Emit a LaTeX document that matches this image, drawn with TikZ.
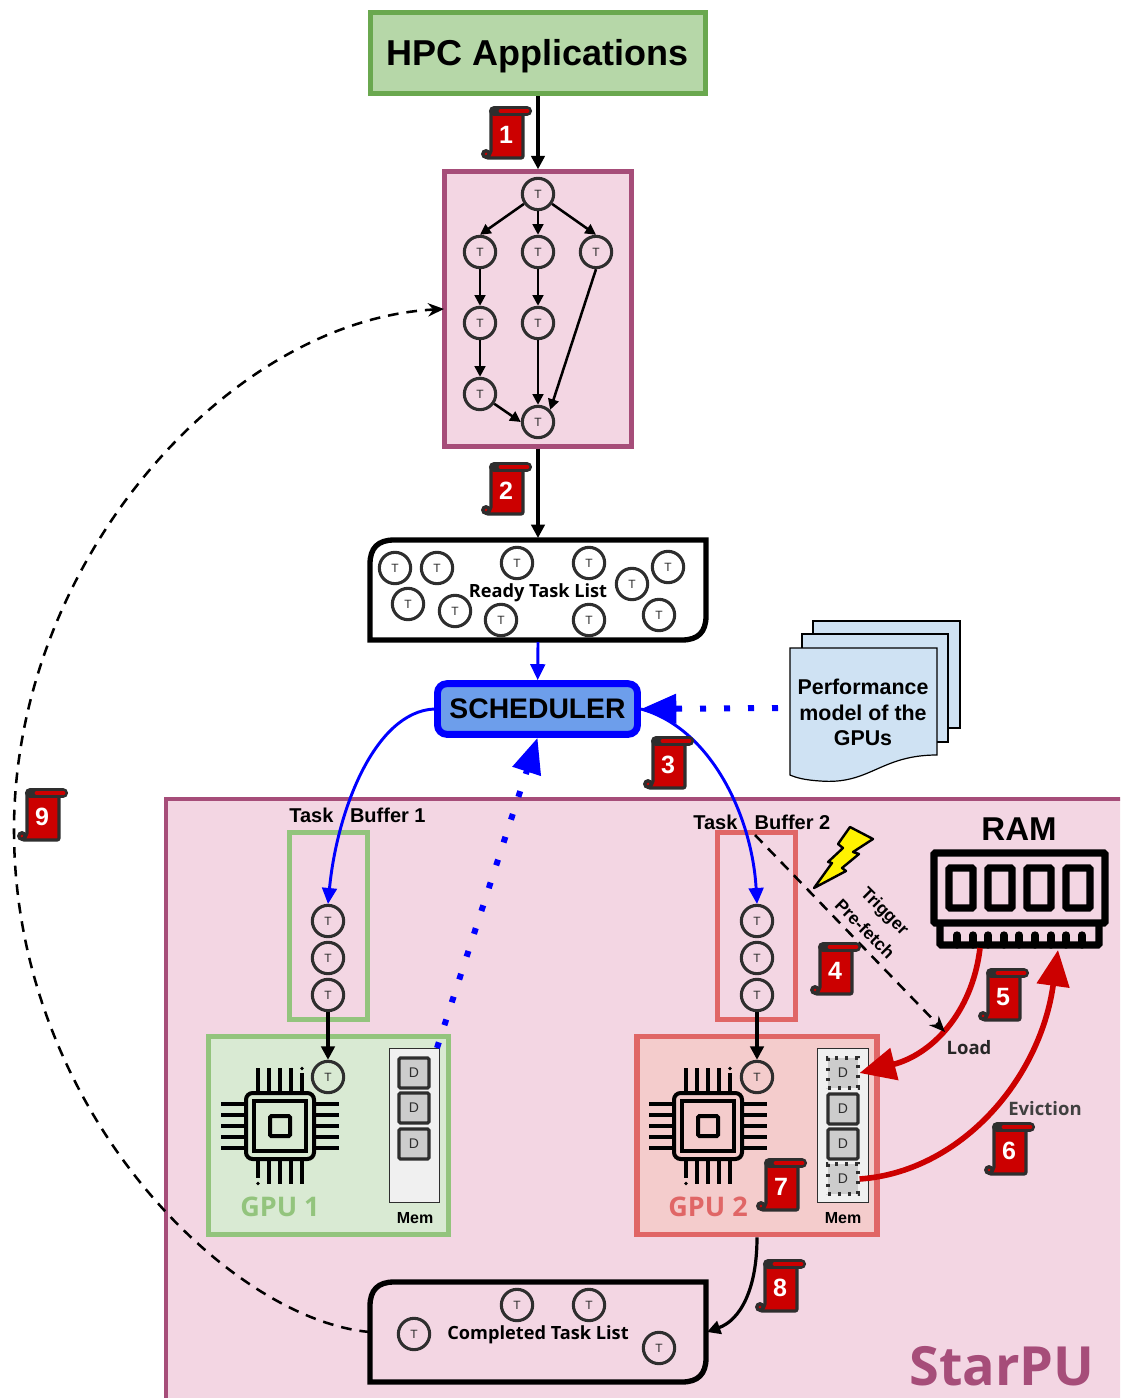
\documentclass[tikz,border=0pt]{standalone}
\usepackage{fontspec}
\setmainfont{Liberation Sans}
\newfontfamily\osans{Open Sans}
\usetikzlibrary{arrows.meta,calc}
\definecolor{plumS}{HTML}{A64D79}
\definecolor{plumF}{HTML}{F3D6E3}
\definecolor{greenA}{HTML}{6AA84F}
\definecolor{greenB}{HTML}{B6D7A8}
\definecolor{greenC}{HTML}{93C47D}
\definecolor{greenD}{HTML}{D9EAD3}
\definecolor{redA}{HTML}{E06666}
\definecolor{redB}{HTML}{F4CCCC}
\definecolor{redC}{HTML}{CC0000}
\definecolor{blueF}{HTML}{6D9EEB}
\definecolor{docF}{HTML}{CFE2F3}
\definecolor{inkG}{HTML}{2E2E2E}
\newcommand{\fpx}[1]{\fontsize{\the\dimexpr #1pt*3/4\relax}{\the\dimexpr #1pt*3/4\relax}\selectfont}
\tikzset{
  tnode/.style={circle,draw=inkG,line width=2.3pt,fill=plumF,minimum size=23.5pt,inner sep=0pt,font=\fontsize{9}{9}\selectfont,text=inkG},
  dnode/.style={rectangle,rounded corners=1pt,draw=inkG,line width=2.4pt,fill=black!20,minimum size=22.5pt,inner sep=0pt,font=\fontsize{10.5}{11}\selectfont,text=inkG},
  dsoft/.style={rectangle,draw=inkG,line width=2.3pt,dash pattern=on 2.3pt off 5.2pt,fill=black!20,minimum size=22.5pt,inner sep=0pt,font=\fontsize{10.5}{11}\selectfont,text=inkG},
  blk/.style={-{Triangle[length=10pt,width=10pt]},line width=2.4pt,black},
  blksmall/.style={-{Triangle[length=8pt,width=8pt]},line width=1.9pt,black},
  blu/.style={-{Triangle[length=12pt,width=11pt]},line width=2.2pt,blue},
  blubig/.style={-{Triangle[length=26.5pt,width=21.4pt]},blue,line width=4.5pt,dash pattern=on 4.5pt off 13.5pt},
  redarrow/.style={-{Triangle[length=27pt,width=24pt]},line width=4.2pt,redC},
  dashk/.style={-{Stealth[length=12pt,width=10pt]},line width=1.9pt,black,dash pattern=on 8pt off 6pt},
  lab/.style={font=\bfseries\fpx{20},inner sep=0pt},
}
\newcommand{\scrollmark}[3]{%
\begin{scope}[shift={(#1,#2)}]
  \fill[inkG] (-4,48) circle[radius=5];
  \fill[redC] (-4,48) circle[radius=1.5];
  \draw[line width=2.4pt,inkG,fill=redC,rounded corners=1.5pt] (1,4) -- (33,4) -- (33,52) -- (-4,52) -- (1,47) -- cycle;
  \draw[line width=7.6pt,inkG,line cap=round] (4,5) -- (37,5);
  \draw[line width=3.6pt,redC,line cap=round] (11,5) -- (37,5);
  \node[text=white,font=\bfseries\fpx{25},inner sep=0pt] (scr#3) at (16,29) {#3};
\end{scope}}
\newcommand{\chipmark}[2]{%
\begin{scope}[shift={(#1,#2)},line width=2.9pt,black]
  \draw[rounded corners=5pt,line width=3pt] (-34,-33) rectangle (34,33);
  \draw[line width=3.2pt] (-26,-25) rectangle (26,25);
  \draw[line width=3pt,rounded corners=1pt] (-10,-10) rectangle (10,10);
  \foreach \v in {-22,-11,0,11,22}{
    \draw (-59,\v) -- (-35,\v);
    \draw (35,\v) -- (59,\v);}
  \foreach \v in {-22,-11,0,11}{\draw (\v,-58) -- (\v,-34);}
  \draw (22,-53) -- (22,-34);
  \fill (22,-57.5) circle[radius=1.8];
  \foreach \v in {-11,0,11,22}{\draw (\v,34) -- (\v,58);}
  \draw (-22,34) -- (-22,52);
  \fill (-22,57.5) circle[radius=1.8];
\end{scope}}
\begin{document}
\begin{tikzpicture}[x=0.75pt,y=-0.75pt]
\useasboundingbox (0,0) rectangle (1120,1398);
\fill[white] (0,0) rectangle (1120,1398);
% StarPU frame
\begin{scope}
\clip (0,0) rectangle (1120,1398);
\draw[plumS,fill=plumF,line width=3.6pt] (166,799) rectangle (1140,1420);
\end{scope}
\node[font=\osans\bfseries\fpx{54},text=plumS,inner sep=0pt] (starpu) at (1002,1366) {StarPU};
% top boxes
\node[draw=greenA,fill=greenB,line width=3.8pt,minimum width=251pt,minimum height=60.7pt,inner sep=0pt,text height=19.5pt,text depth=0pt,font=\bfseries\fpx{36}] (hpc) at (538,53) {HPC Applications};
\node[draw=plumS,fill=plumF,line width=3.6pt,minimum width=140pt,minimum height=206pt,inner sep=0pt] (graph) at (538,309) {};
% task graph
\node[tnode] (ga) at (538,194) {T};
\node[tnode] (gb) at (480,252) {T};
\node[tnode] (gc) at (538,252) {T};
\node[tnode] (gd) at (596,252) {T};
\node[tnode] (ge) at (480,323) {T};
\node[tnode] (gf) at (538,323) {T};
\node[tnode] (gg) at (480,394) {T};
\node[tnode] (gh) at (538,422) {T};
\draw[blksmall] (ga) -- (gb.north);
\draw[blksmall] (ga) -- (gc);
\draw[blksmall] (ga) -- (gd.north);
\draw[blksmall] (gb) -- (ge);
\draw[blksmall] (gc) -- (gf);
\draw[blksmall] (ge) -- (gg);
\draw[blksmall] (gg) -- (gh.west);
\draw[blksmall] (gf) -- (gh);
\draw[blksmall] (gd.south) -- (gh.north east);
\draw[blk] (hpc) -- (graph);
% ready list
\draw[line width=4pt,black,fill=white] (394,540) -- (706,540) -- (706,616) .. controls (706,632) and (698,640) .. (682,640) -- (370,640) -- (370,564) .. controls (370,548) and (378,540) .. (394,540) -- cycle;
\coordinate (rdyN) at (538,538);
\coordinate (rdyS) at (538,642);
\node[font=\osans\bfseries\fpx{18.2},inner sep=0pt] (rdylab) at (538,593) {Ready Task List};
\foreach \n/\x/\y in {a/395/568,b/437/568,c/517/563,d/589/563,e/632/584,f/668/567,g/408/604,h/455/611,i/501/620,j/589/620,k/659/615}{
  \node[tnode,fill=white] (r\n) at (\x,\y) {T};}
\draw[blk] (graph) -- (rdyN);
% scheduler
\node[draw=blue,fill=blueF,line width=5.2pt,rounded corners=7pt,minimum width=150pt,minimum height=38pt,inner sep=0pt,font=\bfseries\fpx{28.3}] (sched) at (537.5,709) {SCHEDULER};
\draw[blu] (rdyS) -- (sched);
% performance doc
\draw[line width=0.9pt,fill=docF] (813,621) rectangle (960,728);
\draw[line width=0.9pt,fill=docF] (802,634) rectangle (948,742);
\draw[line width=0.9pt,fill=docF] (790,648) -- (937,648) -- (937,755) .. controls (880,755) and (870,785) .. (820,781) .. controls (805,780) and (797,778) .. (790,775) -- cycle;
\node[align=center,font=\bfseries\fpx{21.4},inner sep=0pt] (perf) at (863,712.5) {Performance\\[3pt]model of the\\[3pt]GPUs};
\coordinate (perfW) at (778,708);
% buffers
\node[draw=greenC,line width=3.8pt,minimum width=58.5pt,minimum height=140pt,inner sep=0pt] (buf1) at (328.5,926) {};
\node[draw=redA,line width=3.8pt,minimum width=58.5pt,minimum height=140pt,inner sep=0pt] (buf2) at (756.5,926) {};
\node[lab,anchor=west] (buf1lab) at (289,815) {Task\hspace{12.5pt}Buffer 1};
\node[lab,anchor=west] (buf2lab) at (693,822) {Task\hspace{13pt}Buffer 2};
\node[tnode] (p1) at (328,921) {T};
\node[tnode] (p2) at (328,958) {T};
\node[tnode] (p3) at (328,995) {T};
\node[tnode] (q1) at (757,921) {T};
\node[tnode] (q2) at (757,958) {T};
\node[tnode] (q3) at (757,995) {T};
% GPUs
\node[draw=greenC,fill=greenD,line width=4.2pt,minimum width=180pt,minimum height=148.5pt,inner sep=0pt] (gpu1) at (328.5,1135.5) {};
\node[draw=redA,fill=redB,line width=4.2pt,minimum width=180pt,minimum height=148.5pt,inner sep=0pt] (gpu2) at (757,1135.5) {};
\chipmark{280}{1126}
\chipmark{708}{1126}
\node[tnode,fill=greenD] (p4) at (328,1077) {T};
\node[tnode,fill=redB] (q4) at (757,1077) {T};
\node[font=\osans\bfseries\fpx{27},text=greenC,inner sep=0pt] (g1lab) at (280,1207) {GPU 1};
\node[font=\osans\bfseries\fpx{27},text=redA,inner sep=0pt] (g2lab) at (708,1207) {GPU 2};
\draw[blk] (p3) -- (p4);
\draw[blk] (q3) -- (q4);
% memories
\node[draw=inkG,fill=black!6,line width=0.7pt,minimum width=38pt,minimum height=115pt,inner sep=0pt] (mem1) at (414.5,1125.5) {};
\node[draw=inkG,fill=black!6,line width=0.7pt,minimum width=38pt,minimum height=115pt,inner sep=0pt] (mem2) at (843,1125.5) {};
\node[dnode] (d1) at (414,1073) {D};
\node[dnode] (d2) at (414,1108) {D};
\node[dnode] (d3) at (414,1144) {D};
\node[dsoft] (e1) at (843,1073) {D};
\node[dnode] (e2) at (843,1109) {D};
\node[dnode] (e3) at (843,1144) {D};
\node[dsoft] (e4) at (843,1179) {D};
\node[font=\bfseries\fpx{16},inner sep=0pt] (m1lab) at (415,1218) {Mem};
\node[font=\bfseries\fpx{16},inner sep=0pt] (m2lab) at (843,1218) {Mem};
% blue links
\coordinate (p1top) at (328,904);
\coordinate (q1top) at (757,904);
\draw[blu] (sched.west) .. controls (375,712) and (337,810) .. (p1top);
\draw[blu] (sched.east) .. controls (710,728) and (752,815) .. (q1top);
\draw[blubig] (perfW) -- (sched.east);
\coordinate (gpuDot) at (437,1048);
\draw[blubig] (gpuDot) -- (sched.south);
% RAM
\node[font=\bfseries\fpx{33},inner sep=0pt] (ramlab) at (1019,829) {RAM};
\begin{scope}[line width=5.5pt,black,rounded corners=1pt]
\draw (934,853) rectangle (1105,923);
\draw (949,868) rectangle (973,908);
\draw (988,868) rectangle (1012,908);
\draw (1027,868) rectangle (1051,908);
\draw (1066,868) rectangle (1090,908);
\draw (940,923) -- (940,945) -- (1099,945) -- (1099,923);
\end{scope}
\foreach \x in {957,973,988,1004,1019,1035,1051,1066,1082}{
  \draw[line width=5.5pt,line cap=round,black] (\x,945) -- (\x,935);}
\coordinate (ramOut) at (980,948);
\coordinate (ramIn) at (1058,950);
\draw[redarrow] (ramOut) .. controls (972,1015) and (930,1055) .. (e1.east);
\draw[redarrow] (e4.east) .. controls (960,1172) and (1040,1080) .. (ramIn);
\node[font=\osans\bfseries\fpx{18.5},text=black!85,inner sep=0pt] (loadlab) at (969,1048) {Load};
\node[font=\osans\bfseries\fpx{18.5},text=black!75,inner sep=0pt] (evlab) at (1045,1109) {Eviction};
% prefetch
\coordinate (preS) at (755,835);
\coordinate (preE) at (945,1032);
\draw[dashk] (preS) -- (preE);
\node[font=\bfseries\fpx{17.5},rotate=-45,inner sep=0pt] (trig) at (884,912) {Trigger};
\node[font=\bfseries\fpx{17.5},rotate=-45,inner sep=0pt] (pref) at (865,929) {Pre-fetch};
\draw[line width=1.8pt,draw=black,fill=yellow,line join=round] (850,827) -- (873,839) -- (853,852) -- (859,854) -- (842,868) -- (846,871) -- (814,888) -- (832,863) -- (828,862) -- (843,848) -- (838,844) -- cycle;
% completed list
\draw[line width=4pt,black,fill=plumF] (394,1282) -- (706,1282) -- (706,1358) .. controls (706,1374) and (698,1382) .. (682,1382) -- (370,1382) -- (370,1306) .. controls (370,1290) and (378,1282) .. (394,1282) -- cycle;
\coordinate (cplE) at (707,1332);
\coordinate (cplW) at (370,1332);
\node[font=\osans\bfseries\fpx{18.2},inner sep=0pt] (cpllab) at (538,1335) {Completed Task List};
\node[tnode] (ca) at (414,1334) {T};
\node[tnode] (cb) at (517,1305) {T};
\node[tnode] (cc) at (589,1305) {T};
\node[tnode] (cd) at (659,1348) {T};
\draw[blk] (gpu2.south) .. controls (757,1290) and (740,1320) .. (cplE);
% feedback
\coordinate (grW) at (444,309);
\draw[dashk] (cplW) .. controls (230,1320) and (14,1110) .. (14,830) .. controls (14,560) and (230,320) .. (grW);
% scrolls
\scrollmark{490}{106}{1}
\scrollmark{490}{462}{2}
\scrollmark{652}{736}{3}
\scrollmark{819}{942}{4}
\scrollmark{987}{968}{5}
\scrollmark{993}{1122}{6}
\scrollmark{765}{1158}{7}
\scrollmark{764}{1259}{8}
\scrollmark{26}{788}{9}
\end{tikzpicture}
\end{document}
